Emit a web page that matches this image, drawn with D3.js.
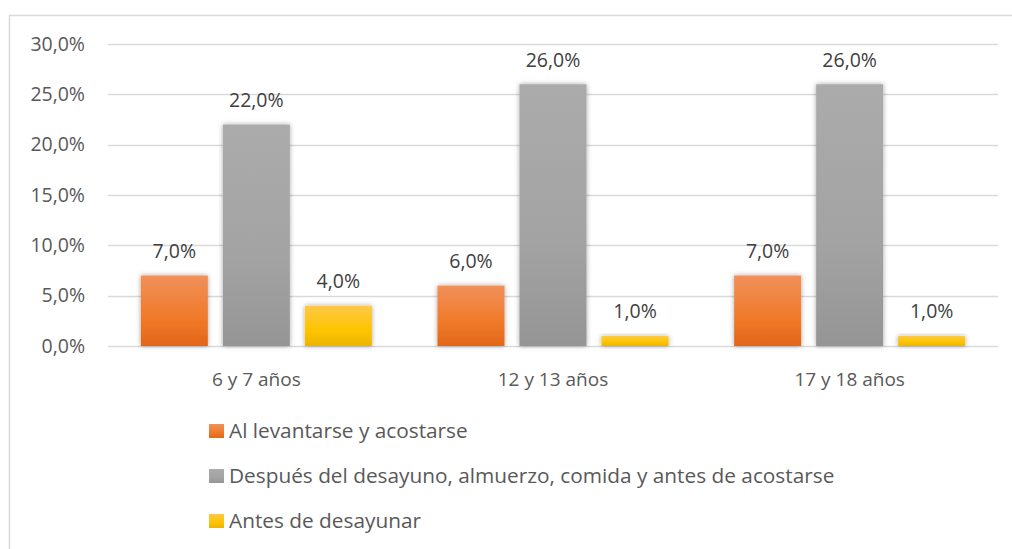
<!DOCTYPE html>
<html><head><meta charset="utf-8">
<script src="https://cdn.jsdelivr.net/npm/d3@7"></script>
<style>body{margin:0;background:#fff;} svg{display:block;} text{font-family:"Open Sans",sans-serif;}</style>
</head><body>
<script>
const categories = ["6 y 7 años", "12 y 13 años", "17 y 18 años"];
const seriesNames = ["Al levantarse y acostarse", "Después del desayuno, almuerzo, comida y antes de acostarse", "Antes de desayunar"];
const levantarse = [7, 6, 7];
const despues = [22, 26, 26];
const antes = [4, 1, 1];
const yTicks = [0, 5, 10, 15, 20, 25, 30];

const series = [levantarse, despues, antes];
const W = 1012, H = 549;
const svg = d3.select("body").append("svg").attr("width", W).attr("height", H);
const defs = svg.append("defs");
const grads = [["#f0905a", "#f07a2a", "#e2661a"], ["#ababab", "#a3a3a3", "#959595"], ["#fdc84a", "#fdc500", "#ecb400"]];
grads.forEach((g, i) => {
  const lg = defs.append("linearGradient").attr("id", "g" + i).attr("x1", 0).attr("x2", 0).attr("y1", 0).attr("y2", 1);
  lg.append("stop").attr("offset", "0%").attr("stop-color", g[0]);
  lg.append("stop").attr("offset", "60%").attr("stop-color", g[1]);
  lg.append("stop").attr("offset", "100%").attr("stop-color", g[2]);
});
const f = defs.append("filter").attr("id", "sh").attr("x", "-20%").attr("y", "-20%").attr("width", "140%").attr("height", "140%");
f.append("feDropShadow").attr("dx", 0).attr("dy", 0).attr("stdDeviation", 2.5).attr("flood-color", "#000").attr("flood-opacity", 0.35);

// outer border
svg.append("path").attr("d", "M9.5,549 L9.5,15.5 L1012,15.5").attr("fill", "none").attr("stroke", "#d9d9d9").attr("stroke-width", 1.5);

const x0 = d3.scaleBand().domain(categories).range([108, 998]).paddingInner(0).paddingOuter(0);
const y = d3.scaleLinear().domain([0, 30]).range([346, 44]);
const x1 = d3.scaleBand().domain([0, 1, 2]).range([0, x0.bandwidth()]).paddingInner(0.183).paddingOuter(0.4);

// grid
svg.append("g").selectAll("line").data(yTicks).join("line")
  .attr("x1", 108).attr("x2", 998).attr("y1", d => Math.round(y(d)) + 0.5).attr("y2", d => Math.round(y(d)) + 0.5)
  .attr("stroke", "#d9d9d9").attr("stroke-width", 1.5);

// y tick labels
const fmt = v => v.toFixed(1).replace(".", ",") + "%";
svg.append("g").selectAll("text").data(yTicks).join("text")
  .attr("x", 85).attr("y", d => y(d)).attr("dy", "0.35em").attr("text-anchor", "end")
  .attr("fill", "#595959").attr("font-size", 19.5).text(fmt);

// bars
const g = svg.append("g");
categories.forEach((c, ci) => {
  series.forEach((s, si) => {
    const bx = x0(c) + x1(si);
    g.append("rect").attr("x", bx).attr("width", x1.bandwidth())
      .attr("y", y(s[ci])).attr("height", y(0) - y(s[ci]))
      .attr("fill", `url(#g${si})`).attr("filter", "url(#sh)");
    g.append("text").attr("x", bx + x1.bandwidth() / 2).attr("y", y(s[ci]) - 17.5)
      .attr("text-anchor", "middle").attr("fill", "#404040").attr("font-size", 19.5).text(fmt(s[ci]));
  });
});

// category labels
svg.append("g").selectAll("text").data(categories).join("text")
  .attr("x", d => x0(d) + x0.bandwidth() / 2).attr("y", 386).attr("text-anchor", "middle")
  .attr("fill", "#595959").attr("font-size", 19).text(d => d);

// legend
const lg = svg.append("g");
seriesNames.forEach((n, i) => {
  const base = 438 + i * 45;
  lg.append("rect").attr("x", 209).attr("y", base - 14).attr("width", 15).attr("height", 14).attr("fill", `url(#g${i})`);
  lg.append("text").attr("x", 229).attr("y", base).attr("fill", "#595959").attr("font-size", 20.8).text(n);
});
</script>
</body></html>
